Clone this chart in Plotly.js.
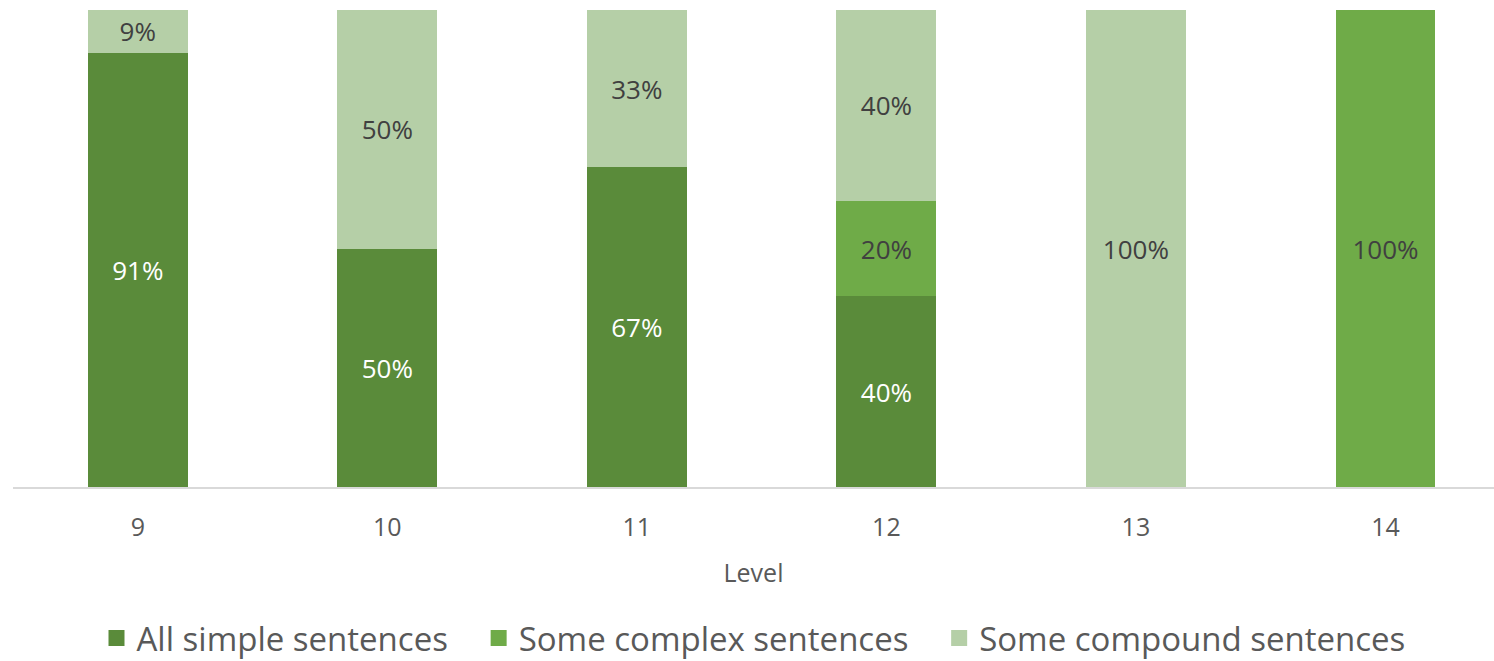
<!DOCTYPE html>
<html>
<head>
<meta charset="utf-8">
<script src="https://cdn.plot.ly/plotly-3.0.1.min.js"></script>
<style>
  html, body { margin: 0; padding: 0; background: #ffffff; }
  #chart { width: 1494px; height: 661px; }
</style>
</head>
<body>
<div id="chart"></div>
<script>
const levels = ['9', '10', '11', '12', '13', '14'];
const allSimple = [91, 50, 67, 40, 0, 0];
const someComplex = [0, 0, 0, 20, 0, 100];
const someCompound = [9, 50, 33, 40, 100, 0];

const seriesNames = ['All simple sentences', 'Some complex sentences', 'Some compound sentences'];
const seriesColors = ['#5a8b3a', '#6fab48', '#b5cfa7'];
const labelColors = ['#ffffff', '#404040', '#404040'];

const FONT = '"Open Sans", "Noto Sans", sans-serif';
const PAD = '\u00a0\u00a0\u00a0';

function pctLabels(vals) {
  return vals.map(v => (v > 0 ? v + '%' : ''));
}

// stacked bars (legend handled by the square-marker entries below)
const barTraces = [allSimple, someComplex, someCompound].map((vals, i) => ({
  type: 'bar',
  name: seriesNames[i],
  x: levels,
  y: vals,
  text: pctLabels(vals),
  textposition: 'inside',
  insidetextanchor: 'middle',
  textangle: 0,
  constraintext: 'none',
  textfont: { family: FONT, size: 26, color: labelColors[i] },
  marker: { color: seriesColors[i], line: { width: 0 } },
  showlegend: false
}));

// legend entries with larger square swatches
const legendTraces = seriesNames.map((name, i) => ({
  type: 'scatter',
  mode: 'markers',
  name: i < seriesNames.length - 1 ? name + PAD : name,
  x: [null],
  y: [null],
  marker: { symbol: 'square', size: 16, color: seriesColors[i] },
  showlegend: true
}));

const layout = {
  width: 1494,
  height: 661,
  barmode: 'stack',
  bargap: 0.6,
  paper_bgcolor: '#ffffff',
  plot_bgcolor: '#ffffff',
  margin: { l: 13, r: 0, t: 10, b: 174, autoexpand: false },
  font: { family: FONT, color: '#595959' },
  xaxis: {
    type: 'category',
    range: [-0.5, 5.435],
    showline: true,
    linecolor: '#d9d9d9',
    linewidth: 2,
    ticks: '',
    ticklabelstandoff: 17,
    showgrid: false,
    zeroline: false,
    automargin: true,
    tickfont: { family: FONT, size: 25, color: '#595959' },
    title: { text: 'Level', font: { family: FONT, size: 25, color: '#595959' }, standoff: 22 }
  },
  yaxis: {
    range: [0, 100],
    visible: false,
    showgrid: false,
    zeroline: false
  },
  legend: {
    orientation: 'h',
    traceorder: 'normal',
    x: 0.5,
    xanchor: 'center',
    y: -0.258,
    yanchor: 'top',
    font: { family: FONT, size: 33, color: '#595959' },
    itemsizing: 'trace',
    tracegroupgap: 0
  },
  showlegend: true
};

Plotly.newPlot('chart', barTraces.concat(legendTraces), layout, { displayModeBar: false, staticPlot: true });
</script>
</body>
</html>
